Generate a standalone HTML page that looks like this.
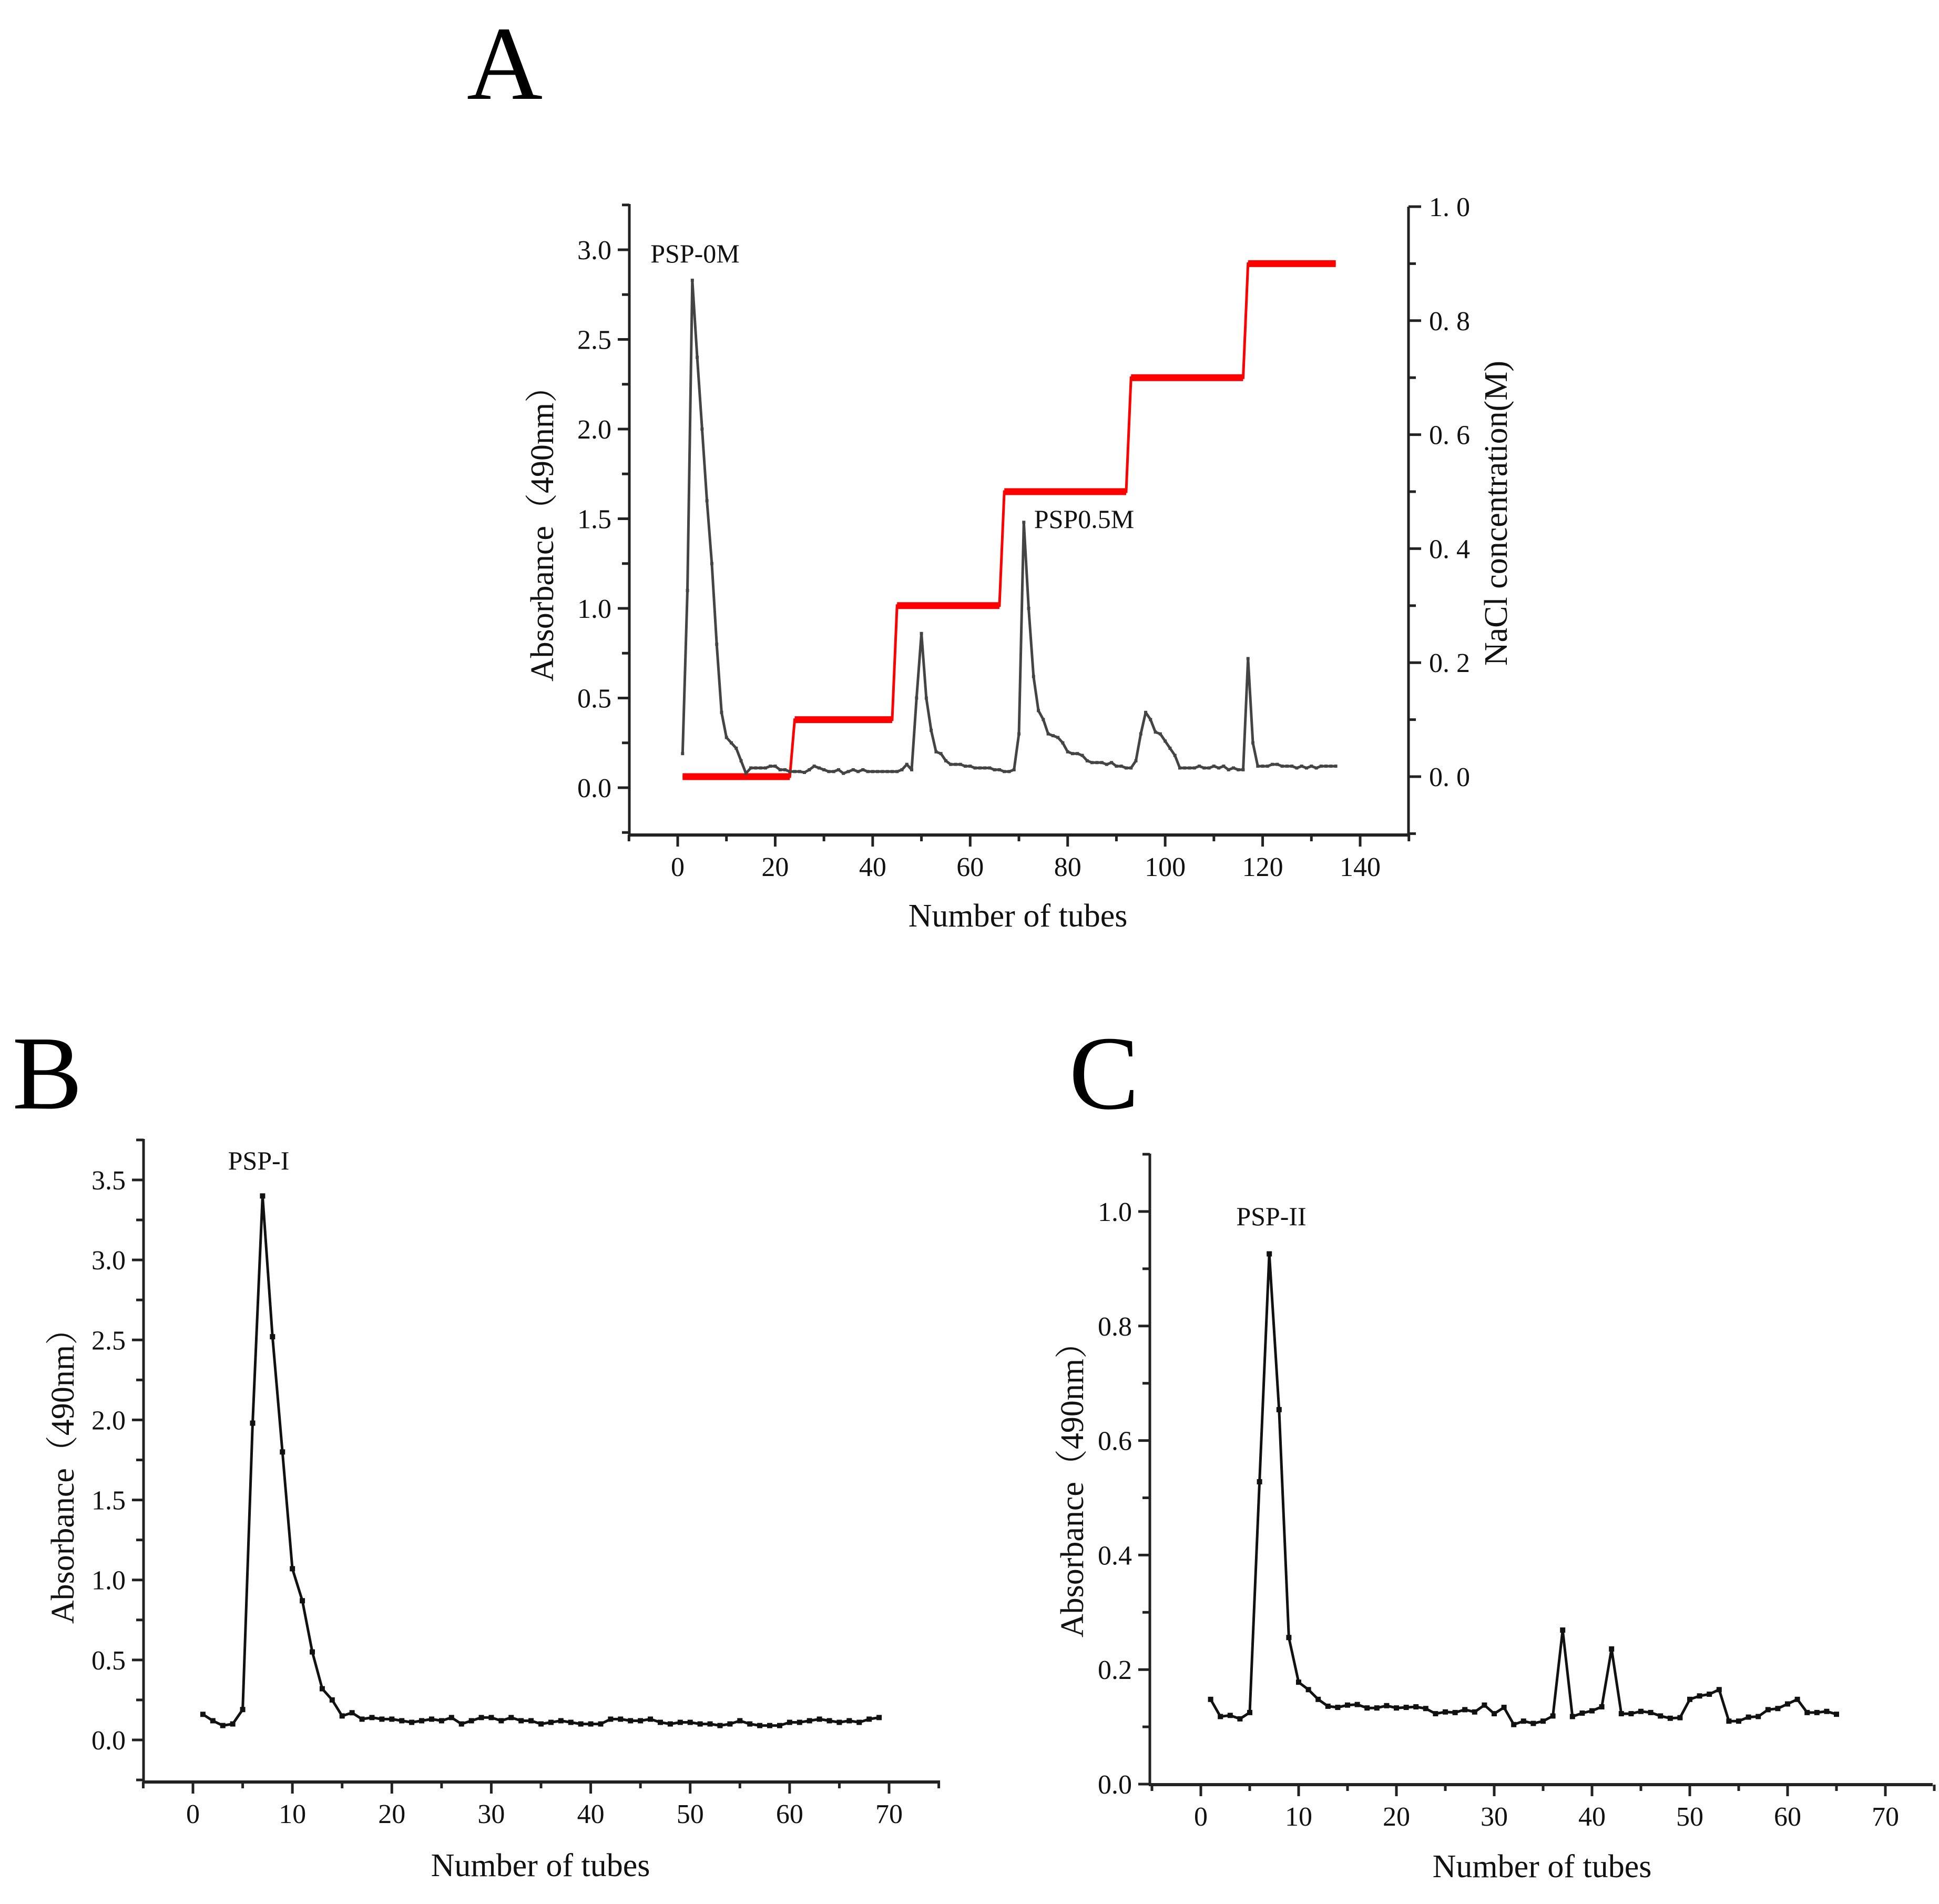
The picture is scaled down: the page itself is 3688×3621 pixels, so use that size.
<!DOCTYPE html>
<html><head><meta charset="utf-8"><style>
html,body{margin:0;padding:0;background:#fff}
svg{display:block}
text{font-family:"Liberation Serif","Noto Serif CJK SC",serif}
</style></head><body>
<svg id="fig" width="3688" height="3621" viewBox="0 0 3688 3621" xmlns="http://www.w3.org/2000/svg">
<rect width="3688" height="3621" fill="#fff"/>
<text x="960" y="188" font-size="200" text-anchor="middle">A</text>
<text x="90" y="2108" font-size="200" text-anchor="middle">B</text>
<text x="2100" y="2108" font-size="200" text-anchor="middle">C</text>
<g id="pa"></g>
<g id="pb"></g>
<g id="pc"></g>
</svg>
<script>
// Panel A data
const aTubes = [];
const aAbs = [0.19,1.1,2.83,2.4,2.0,1.6,1.25,0.8,0.42,0.28,0.25,0.22,0.15,0.08,0.11,0.11,0.11,0.11,0.12,0.12,0.10,0.10,0.09,0.09,0.09,0.085,0.10,0.12,0.11,0.10,0.09,0.09,0.10,0.08,0.09,0.10,0.09,0.10,0.09,0.09,0.09,0.09,0.09,0.09,0.09,0.10,0.13,0.10,0.50,0.86,0.50,0.32,0.20,0.19,0.15,0.13,0.13,0.13,0.12,0.12,0.11,0.11,0.11,0.11,0.10,0.10,0.09,0.09,0.10,0.30,1.48,1.00,0.62,0.43,0.38,0.30,0.29,0.28,0.25,0.20,0.19,0.19,0.18,0.15,0.14,0.14,0.14,0.13,0.14,0.12,0.12,0.11,0.11,0.15,0.30,0.42,0.38,0.31,0.30,0.26,0.22,0.18,0.11,0.11,0.11,0.11,0.12,0.11,0.11,0.12,0.11,0.12,0.10,0.11,0.10,0.10,0.72,0.25,0.12,0.12,0.12,0.13,0.13,0.12,0.12,0.12,0.11,0.12,0.11,0.12,0.11,0.12,0.12,0.12,0.12];
for (let i = 0; i < aAbs.length; i++) aTubes.push(i + 1);
const stepStarts = [1,24,45,67,93,117];
const stepEnds = [23,44,66,92,116,135];
const stepLevels = [0,0.1,0.3,0.5,0.7,0.9];
const aXTicks = [0,20,40,60,80,100,120,140];
const aYTicks = [0.0,0.5,1.0,1.5,2.0,2.5,3.0];
const aRTicks = [0.0,0.2,0.4,0.6,0.8,1.0];
// Panel B data
const bAbs = [0.16,0.12,0.09,0.10,0.19,1.98,3.40,2.52,1.80,1.07,0.87,0.55,0.32,0.25,0.15,0.17,0.13,0.14,0.13,0.13,0.12,0.11,0.12,0.13,0.12,0.14,0.10,0.12,0.14,0.14,0.12,0.14,0.12,0.12,0.10,0.11,0.12,0.11,0.10,0.10,0.10,0.13,0.13,0.12,0.12,0.13,0.11,0.10,0.11,0.11,0.10,0.10,0.09,0.10,0.12,0.10,0.09,0.09,0.09,0.11,0.11,0.12,0.13,0.12,0.11,0.12,0.11,0.13,0.14];
const bXTicks = [0,10,20,30,40,50,60,70];
const bYTicks = [0.0,0.5,1.0,1.5,2.0,2.5,3.0,3.5];
// Panel C data
const cAbs = [0.148,0.118,0.12,0.114,0.125,0.528,0.926,0.654,0.256,0.178,0.165,0.148,0.136,0.134,0.138,0.139,0.133,0.133,0.137,0.133,0.134,0.135,0.132,0.123,0.126,0.125,0.13,0.126,0.138,0.123,0.134,0.104,0.11,0.106,0.11,0.119,0.269,0.118,0.124,0.128,0.135,0.236,0.123,0.123,0.127,0.125,0.119,0.115,0.116,0.148,0.154,0.157,0.165,0.11,0.11,0.117,0.118,0.13,0.132,0.14,0.148,0.125,0.125,0.127,0.122];
const cXTicks = [0,10,20,30,40,50,60,70];
const cYTicks = [0.0,0.2,0.4,0.6,0.8,1.0];

const NS = "http://www.w3.org/2000/svg";
function mk(parent, tag, attrs, txt) {
  const e = document.createElementNS(NS, tag);
  for (const k in attrs) e.setAttribute(k, attrs[k]);
  if (txt !== undefined) e.textContent = txt;
  parent.appendChild(e);
  return e;
}
function lin(d0, d1, r0, r1) { return v => r0 + (v - d0) * (r1 - r0) / (d1 - d0); }
function fmt(v, d) { return v.toFixed(d); }

function axes(g, o) {
  const col = "#222";
  let e = mk(g, "line", {x1:o.L, y1:o.T, x2:o.L, y2:o.B, stroke:col, "stroke-width":5});
  
  
  e = mk(g, "line", {x1:o.L-2, y1:o.B, x2:o.R, y2:o.B, stroke:col, "stroke-width":6});
  
  
  for (let v = o.xmin; v <= o.xmax + 1e-9; v += o.xminor) {
    const X = o.x(v);
    const major = o.xTicks.some(t => Math.abs(t - v) < 1e-6);
    mk(g, "line", {x1:X, y1:o.B, x2:X, y2:o.B + (major ? 22 : 12), stroke:col, "stroke-width":5});
  }
  o.xTicks.forEach(t => {
    const tx = mk(g, "text", {x:o.x(t), y:o.B + 78, "font-size":52, "text-anchor":"middle", fill:"#111"}, String(t));
    
    
  });
  for (let v = o.ymin; v <= o.ymax + 1e-9; v += o.yminor) {
    const Y = o.y(v);
    const major = o.yTicks.some(t => Math.abs(t - v) < 1e-6);
    mk(g, "line", {x1:o.L, y1:Y, x2:o.L - (major ? 22 : 14), y2:Y, stroke:col, "stroke-width":5});
  }
  o.yTicks.forEach(t => {
    const tx = mk(g, "text", {x:o.L - 34, y:o.y(t) + 18, "font-size":52, "text-anchor":"end", fill:"#111"}, fmt(t, 1));
    
    
  });
}
function series(g, xs, ys, o, color, w, ms) {
  const pts = xs.map((t, i) => o.x(t).toFixed(1) + "," + o.y(ys[i]).toFixed(1)).join(" ");
  const pl = mk(g, "polyline", {points:pts, fill:"none", stroke:color, "stroke-width":w, "stroke-linejoin":"round"});
  
  
  xs.forEach((t, i) => {
    const r = mk(g, "rect", {x:o.x(t) - ms/2, y:o.y(ys[i]) - ms/2, width:ms, height:ms, fill:color});
    
    
  });
}
function ytitle(g, x, y, s, name) {
  const t = mk(g, "text", {x:x, y:y, "font-size":62, "text-anchor":"middle", transform:`rotate(-90 ${x} ${y})`, fill:"#111"}, s);
  
  
}
function label(g, x, y, s, fs, name) {
  const t = mk(g, "text", {x:x, y:y, "font-size":fs, "text-anchor":"middle", fill:"#111"}, s);
  
  
}

// ---- Panel A ----
(function(){
  const g = document.getElementById("pa");
  const o = {L:1197, R:2679, T:388, B:1588, xmin:-10, xmax:150, xminor:10, ymin:-0.25, ymax:3.25, yminor:0.25, xTicks:aXTicks, yTicks:aYTicks};
  o.x = lin(0, 140, 1289, 2587);
  o.y = lin(0, 3, 1498, 475);
  axes(g, o);
  const yr = lin(0, 1, 1477, 393);
  let e = mk(g, "line", {x1:2679, y1:yr(1.0), x2:2679, y2:1588, stroke:"#222", "stroke-width":5});
  
  
  for (let v = -0.1; v <= 1.0001; v += 0.1) {
    const major = aRTicks.some(t => Math.abs(t - v) < 1e-6);
    mk(g, "line", {x1:2679, y1:yr(v), x2:2679 + (major ? 24 : 14), y2:yr(v), stroke:"#222", "stroke-width":5});
  }
  aRTicks.forEach(t => {
    const s = fmt(t, 1).replace(".", ". ");
    const tx = mk(g, "text", {x:2718, y:yr(t) + 18, "font-size":52, fill:"#111"}, s);
    
    
  });
  let pts = [];
  stepStarts.forEach((s, i) => {
    pts.push(o.x(s) + "," + yr(stepLevels[i]));
    pts.push(o.x(stepEnds[i]) + "," + yr(stepLevels[i]));
  });
  const red = mk(g, "polyline", {points:pts.join(" "), fill:"none", stroke:"#f00", "stroke-width":5});
  
  
  stepStarts.forEach((s, i) => {
    const seg = mk(g, "line", {x1:o.x(s), y1:yr(stepLevels[i]), x2:o.x(stepEnds[i]), y2:yr(stepLevels[i]), stroke:"#f00", "stroke-width":13});
    
    
  });
  series(g, aTubes, aAbs, o, "#444", 5, 6);
  label(g, 1322, 499, "PSP-0M", 50, "peak-label-psp-0m");
  label(g, 2062, 1004, "PSP0.5M", 50, "peak-label-psp0-5m");
  ytitle(g, 1052, 1000, "Absorbance（490nm）", "y-axis-title");
  ytitle(g, 2866, 976, "NaCl concentration(M)", "right-axis-title");
  label(g, 1936, 1762, "Number of tubes", 62, "x-axis-title");
})();

// ---- Panel B ----
(function(){
  const g = document.getElementById("pb");
  const o = {L:273, R:1788, T:2166, B:3389, xmin:-5, xmax:75, xminor:5, ymin:-0.25, ymax:3.75, yminor:0.25, xTicks:bXTicks, yTicks:bYTicks};
  o.x = lin(0, 70, 367, 1691);
  o.y = lin(0, 3.5, 3309, 2244);
  axes(g, o);
  series(g, bAbs.map((v, i) => i + 1), bAbs, o, "#111", 5, 10);
  label(g, 492, 2224, "PSP-I", 50, "peak-label-psp-i");
  ytitle(g, 140, 2792, "Absorbance（490nm）", "y-axis-title");
  label(g, 1028, 3568, "Number of tubes", 62, "x-axis-title");
})();

// ---- Panel C ----
(function(){
  const g = document.getElementById("pc");
  const o = {L:2187, R:3676, T:2194, B:3394, xmin:-5, xmax:75, xminor:5, ymin:0, ymax:1.1, yminor:0.1, xTicks:cXTicks, yTicks:cYTicks};
  o.x = lin(0, 70, 2284, 3586);
  o.y = lin(0, 1, 3393, 2304);
  axes(g, o);
  series(g, cAbs.map((v, i) => i + 1), cAbs, o, "#111", 5, 10);
  label(g, 2418, 2330, "PSP-II", 50, "peak-label-psp-ii");
  ytitle(g, 2060, 2818, "Absorbance（490nm）", "y-axis-title");
  label(g, 2933, 3570, "Number of tubes", 62, "x-axis-title");
})();
</script>
</body></html>
